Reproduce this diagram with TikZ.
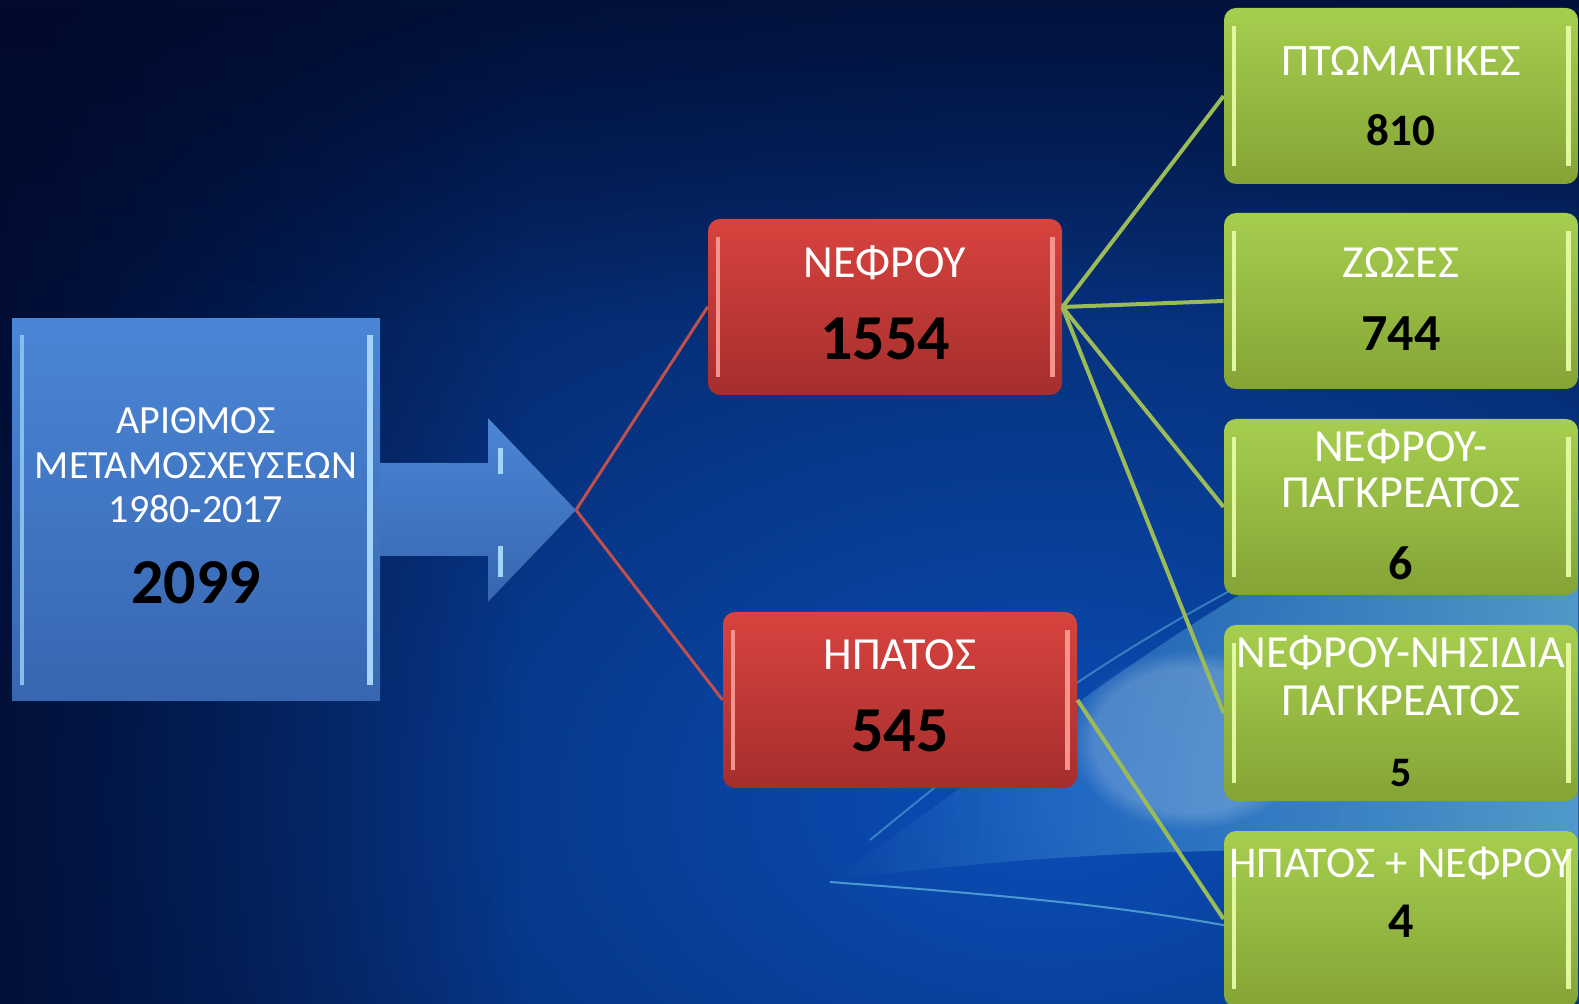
\documentclass[tikz,border=0pt]{standalone}
\usepackage{fontspec}
\setmainfont{Carlito}
\usetikzlibrary{fadings}

\definecolor{bgdark}{HTML}{010A2C}
\definecolor{bgmid}{HTML}{0A4EB8}
\definecolor{bgglow}{HTML}{8CEBFF}
\definecolor{bluebox}{HTML}{4A86D6}
\definecolor{blueboxdk}{HTML}{3866B0}
\definecolor{bluelight}{HTML}{A4D4F8}
\definecolor{redbox}{HTML}{D8433F}
\definecolor{redboxdk}{HTML}{A52E2C}
\definecolor{redlight}{HTML}{F4948C}
\definecolor{greenbox}{HTML}{A6CE4E}
\definecolor{greenboxdk}{HTML}{84A436}
\definecolor{greenlight}{HTML}{E2F8A0}
\definecolor{redline}{HTML}{C0504D}
\definecolor{greenline}{HTML}{9BBB59}

% size, value, extra depth below the value
\newcommand{\num}[3]{\fontsize{#1}{#1}\selectfont\bfseries\textcolor{black}{#2}\rule[-#3]{0pt}{0pt}}

\begin{document}
\begin{tikzpicture}[x=0.5pt, y=-0.5pt,
    box/.style={rounded corners=6pt, draw=none, text=white, align=center,
      inner sep=0pt,
      path picture={
        \draw[line width=2pt, #1]
          ([xshift=5pt,yshift=-9pt]path picture bounding box.north west) --
          ([xshift=5pt,yshift=9pt]path picture bounding box.south west);
        \draw[line width=2.5pt, #1]
          ([xshift=-5pt,yshift=-9pt]path picture bounding box.north east) --
          ([xshift=-5pt,yshift=9pt]path picture bounding box.south east);
      }},
    organ/.style={box=redlight, top color=redbox, bottom color=redboxdk,
      minimum width=177pt, minimum height=88pt},
    kind/.style={box=greenlight, top color=greenbox, bottom color=greenboxdk,
      minimum width=177pt, minimum height=88pt},
    total/.style={top color=bluebox, bottom color=blueboxdk, text=white,
      align=center, inner sep=0pt, minimum width=184pt, minimum height=191pt,
      path picture={
        \draw[line width=2pt, bluelight!70!bluebox]
          ([xshift=5pt,yshift=-8pt]path picture bounding box.north west) --
          ([xshift=5pt,yshift=8pt]path picture bounding box.south west);
        \draw[line width=3pt, bluelight]
          ([xshift=-5pt,yshift=-8pt]path picture bounding box.north east) --
          ([xshift=-5pt,yshift=8pt]path picture bounding box.south east);
      }},
    split/.style={line width=1.5pt, redline},
    branch/.style={line width=2pt, greenline}
  ]
  \clip (0,0) rectangle (1579,1004);

  % background
  \fill[bgdark] (0,0) rectangle (1579,1004);
  \shade[inner color=bgmid, outer color=bgdark] (1050,800) ellipse (1750 and 1150);
  \fill[bgdark, path fading=east, opacity=0.75] (0,0) rectangle (520,1004);
  \fill[bgdark, path fading=south, opacity=0.6] (0,0) rectangle (1579,320);
  \fill[bgglow, path fading=west, opacity=0.55]
    (830,880) .. controls (980,780) and (1120,660) .. (1300,560)
    -- (1579,500) -- (1579,860) -- (1300,850)
    .. controls (1100,850) and (960,865) .. (830,880) -- cycle;
  \fill[white, path fading=circle with fuzzy edge 20 percent, opacity=0.2]
    (1190,740) ellipse (120 and 90);
  \draw[bgglow, line width=1pt, opacity=0.5]
    (830,882) .. controls (1000,895) and (1120,905) .. (1250,930);
  \draw[bgglow, line width=1pt, opacity=0.35]
    (870,840) .. controls (980,750) and (1080,670) .. (1250,580);

  % arrow
  \coordinate (tip) at (576,510);
  \fill[top color=bluebox, bottom color=blueboxdk]
    (360,463) -- (488,463) -- (488,418) -- (tip) -- (488,602)
    -- (488,556) -- (360,556) -- cycle;
  \draw[line width=2.5pt, bluelight] (500,448) -- (500,474);
  \draw[line width=2.5pt, bluelight] (500,546) -- (500,577);

  % boxes
  \node[total, font=\fontsize{20}{22.2}\selectfont] (all) at (196,510)
    {ΑΡΙΘΜΟΣ\\ΜΕΤΑΜΟΣΧΕΥΣΕΩΝ\\1980-2017\\[18pt]\num{32}{2099}{4.5pt}};

  \node[organ, font=\fontsize{23}{28}\selectfont] (kidney) at (885,307)
    {ΝΕΦΡΟΥ\\[12.8pt]\num{32}{1554}{4.5pt}};
  \node[organ, font=\fontsize{23}{28}\selectfont] (liver) at (900,700)
    {ΗΠΑΤΟΣ\\[12.8pt]\num{32}{545}{4.5pt}};

  \node[kind, font=\fontsize{22.5}{28}\selectfont] (dead) at (1401,96)
    {ΠΤΩΜΑΤΙΚΕΣ\\[6.7pt]\num{22.5}{810}{0pt}};
  \node[kind, font=\fontsize{23}{28}\selectfont] (alive) at (1401,301)
    {ΖΩΣΕΣ\\[8.8pt]\num{26}{744}{2pt}};
  \node[kind, font=\fontsize{23}{22.7}\selectfont] (kpanc) at (1401,507)
    {ΝΕΦΡΟΥ-\\ΠΑΓΚΡΕΑΤΟΣ\\[13.6pt]\num{24}{6}{2pt}};
  \node[kind, font=\fontsize{23}{24.2}\selectfont] (kislet) at (1401,713)
    {ΝΕΦΡΟΥ-ΝΗΣΙΔΙΑ\\ΠΑΓΚΡΕΑΤΟΣ\\[11pt]\num{21}{5}{2pt}};
  \node[kind, font=\fontsize{22}{28}\selectfont] (lk) at (1401,919)
    {ΗΠΑΤΟΣ + ΝΕΦΡΟΥ\\[2.2pt]\num{25}{4}{27pt}};

  % connectors
  \draw[split] (tip) -- (kidney.west);
  \draw[split] (tip) -- (liver.west);
  \foreach \k in {dead, alive, kpanc, kislet}
    \draw[branch] (kidney.east) -- (\k.west);
  \draw[branch] (liver.east) -- (lk.west);
\end{tikzpicture}
\end{document}
